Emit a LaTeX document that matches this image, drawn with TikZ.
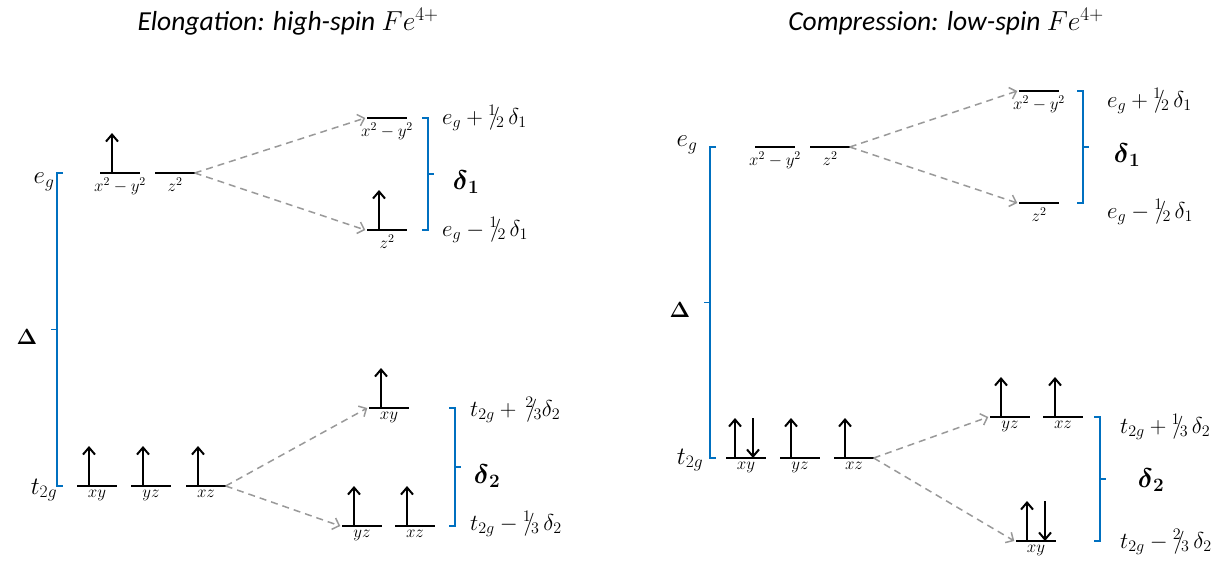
\RequirePackage{fix-cm}
\documentclass[tikz,border=0pt]{standalone}
\usepackage{amsmath}
\usepackage[no-math]{fontspec}
\newfontfamily\calibri{Carlito}
\usetikzlibrary{arrows.meta,calc,positioning}
\definecolor{brblue}{RGB}{0,112,192}
\newcommand{\vfr}[2]{{}^{#1}\!\!/\!{}_{#2}}
\newcommand{\bdelta}[1]{\boldsymbol{\delta}_{\mathbf{#1}}}
\tikzset{
  lvl/.style={minimum width=39pt,minimum height=0pt,inner sep=0pt},
  lvlline/.style={line width=2.6pt},
  % y axis points down, so fix the label anchor by hand
  orb/.style={font=\fontsize{17}{17}\selectfont,inner sep=0pt,anchor=north,yshift=-4pt},
  spin/.style={line width=2pt,-{Straight Barb[length=7pt,width=12pt,line width=2pt]}},
  split/.style={gray!80,line width=1.5pt,dash pattern=on 7pt off 5pt,-{Straight Barb[length=6pt,width=12pt]}},
  brk/.style={brblue,line width=1.4pt},
  energy/.style={font=\fontsize{23}{23}\selectfont,anchor=west,inner sep=0pt},
  gap/.style={font=\fontsize{25}{25}\selectfont,inner sep=0pt},
  split gap/.style={font=\fontsize{27}{27}\selectfont,inner sep=0pt},
  big gap/.style={font=\fontsize{22}{22}\selectfont,inner sep=0pt},
  heading/.style={font=\fontsize{27.5}{27.5}\selectfont\calibri\itshape}
}
\begin{document}
\begin{tikzpicture}[x=1pt,y=-1pt]
\useasboundingbox (0,0) rectangle (1231,562);

% ---- elongation, high-spin ----
\node[heading] (titleA) at (288,22) {Elongation: high-spin $Fe^{4+}$};

\node[lvl,label={[orb]below:$x^2-y^2$}] (aeg1) at (120,173) {};
\node[lvl,label={[orb]below:$z^2$}] (aeg2) at (175,173) {};
\node[lvl,label={[orb]below:$x^2-y^2$}] (aeu) at (387,118) {};
\node[lvl,label={[orb]below:$z^2$}] (ael) at (387,230) {};
\node[lvl,label={[orb]below:$xy$}] (at1) at (97,486) {};
\node[lvl,label={[orb]below:$yz$}] (at2) at (151,486) {};
\node[lvl,label={[orb]below:$xz$}] (at3) at (206,486) {};
\node[lvl,label={[orb]below:$xy$}] (atu) at (389,408) {};
\node[lvl,label={[orb]below:$yz$}] (atl1) at (362,526) {};
\node[lvl,label={[orb]below:$xz$}] (atl2) at (415,526) {};

\foreach \n in {aeg1,aeg2,aeu,ael,at1,at2,at3,atu,atl1,atl2}
  \draw[lvlline] (\n.west) -- (\n.east);
\foreach \n in {aeg1,ael,at1,at2,at3,atu,atl1,atl2}
  \draw[spin] ([xshift=-8pt]\n.center) -- ++(0,-40);

\draw[split] (aeg2.east) -- ([xshift=-2pt]aeu.west);
\draw[split] (aeg2.east) -- ([xshift=-2pt]ael.west);
\draw[split] (at3.east) -- ([xshift=-2pt]atu.west);
\draw[split] (at3.east) -- ([xshift=-2pt]atl1.west);

\coordinate (bA1) at (57,173);
\coordinate (bA2) at (57,486);
\draw[brk] ([xshift=6pt]bA1) -- (bA1) -- (bA2) -- ([xshift=6pt]bA2);
\draw[brk] ($(bA1)!0.5!(bA2)$) -- ++(-6,0);
\coordinate (bB1) at (428,118);
\coordinate (bB2) at (428,230);
\draw[brk] ([xshift=-6pt]bB1) -- (bB1) -- (bB2) -- ([xshift=-6pt]bB2);
\draw[brk] ($(bB1)!0.5!(bB2)$) -- ++(6,0);
\coordinate (bC1) at (455,408);
\coordinate (bC2) at (455,526);
\draw[brk] ([xshift=-6pt]bC1) -- (bC1) -- (bC2) -- ([xshift=-6pt]bC2);
\draw[brk] ($(bC1)!0.5!(bC2)$) -- ++(6,0);

\node[gap] (egA) at (44,182) {$e_g$};
\node[gap] (t2gA) at (44,490) {$t_{2g}$};
\node[big gap] (DeltaA) at (27,337) {$\mathbf{\Delta}$};
\node[split gap] (d1A) at (466,182) {$\bdelta{1}$};
\node[split gap] (d2A) at (487,476) {$\bdelta{2}$};
\node[energy] (eupA) at (442,118) {$e_g+\vfr{1}{2}\,\delta_1$};
\node[energy] (edownA) at (442,230) {$e_g-\vfr{1}{2}\,\delta_1$};
\node[energy] (tupA) at (470,410) {$t_{2g}+\,\vfr{2}{3}\delta_2$};
\node[energy] (tdownA) at (470,524) {$t_{2g}-\vfr{1}{3}\,\delta_2$};

% ---- compression, low-spin ----
\node[heading] (titleB) at (946,22) {Compression: low-spin $Fe^{4+}$};

\node[lvl,label={[orb]below:$x^2-y^2$}] (beg1) at (775,147) {};
\node[lvl,label={[orb]below:$z^2$}] (beg2) at (830,147) {};
\node[lvl,label={[orb]below:$x^2-y^2$}] (beu) at (1039,91) {};
\node[lvl,label={[orb]below:$z^2$}] (bel) at (1039,203) {};
\node[lvl,label={[orb]below:$xy$}] (bt1) at (746,458) {};
\node[lvl,label={[orb]below:$yz$}] (bt2) at (800,458) {};
\node[lvl,label={[orb]below:$xz$}] (bt3) at (854,458) {};
\node[lvl,label={[orb]below:$yz$}] (btu1) at (1010,417) {};
\node[lvl,label={[orb]below:$xz$}] (btu2) at (1063,417) {};
\node[lvl,label={[orb]below:$xy$}] (btl) at (1036,541) {};

\foreach \n in {beg1,beg2,beu,bel,bt1,bt2,bt3,btu1,btu2,btl}
  \draw[lvlline] (\n.west) -- (\n.east);
\foreach \n/\dx in {bt1/-11,bt2/-9,bt3/-9,btu1/-9,btu2/-8,btl/-9}
  \draw[spin] ([xshift=\dx pt]\n.center) -- ++(0,-40);
\foreach \n/\dx in {bt1/7,btl/9}
  \draw[spin] ([xshift=\dx pt,yshift=40pt]\n.center) -- ++(0,40);

\draw[split] (beg2.east) -- ([xshift=-2pt]beu.west);
\draw[split] (beg2.east) -- ([xshift=-2pt]bel.west);
\draw[split] (bt3.east) -- ([xshift=-2pt]btu1.west);
\draw[split] (bt3.east) -- ([xshift=-2pt]btl.west);

\coordinate (bD1) at (710,147);
\coordinate (bD2) at (710,458);
\draw[brk] ([xshift=6pt]bD1) -- (bD1) -- (bD2) -- ([xshift=6pt]bD2);
\draw[brk] ($(bD1)!0.5!(bD2)$) -- ++(-6,0);
\coordinate (bE1) at (1083,91);
\coordinate (bE2) at (1083,203);
\draw[brk] ([xshift=-6pt]bE1) -- (bE1) -- (bE2) -- ([xshift=-6pt]bE2);
\draw[brk] ($(bE1)!0.5!(bE2)$) -- ++(6,0);
\coordinate (bF1) at (1100,417);
\coordinate (bF2) at (1100,541);
\draw[brk] ([xshift=-6pt]bF1) -- (bF1) -- (bF2) -- ([xshift=-6pt]bF2);
\draw[brk] ($(bF1)!0.5!(bF2)$) -- ++(6,0);

\node[gap] (egB) at (687,145) {$e_g$};
\node[gap] (t2gB) at (690,460) {$t_{2g}$};
\node[big gap] (DeltaB) at (680,310) {$\mathbf{\Delta}$};
\node[split gap] (d1B) at (1127,155) {$\bdelta{1}$};
\node[split gap] (d2B) at (1151,480) {$\bdelta{2}$};
\node[energy] (eupB) at (1107,101) {$e_g+\vfr{1}{2}\,\delta_1$};
\node[energy] (edownB) at (1107,212) {$e_g-\vfr{1}{2}\,\delta_1$};
\node[energy] (tupB) at (1120,427) {$t_{2g}+\vfr{1}{3}\,\delta_2$};
\node[energy] (tdownB) at (1120,542) {$t_{2g}-\vfr{2}{3}\,\delta_2$};
\end{tikzpicture}
\end{document}
